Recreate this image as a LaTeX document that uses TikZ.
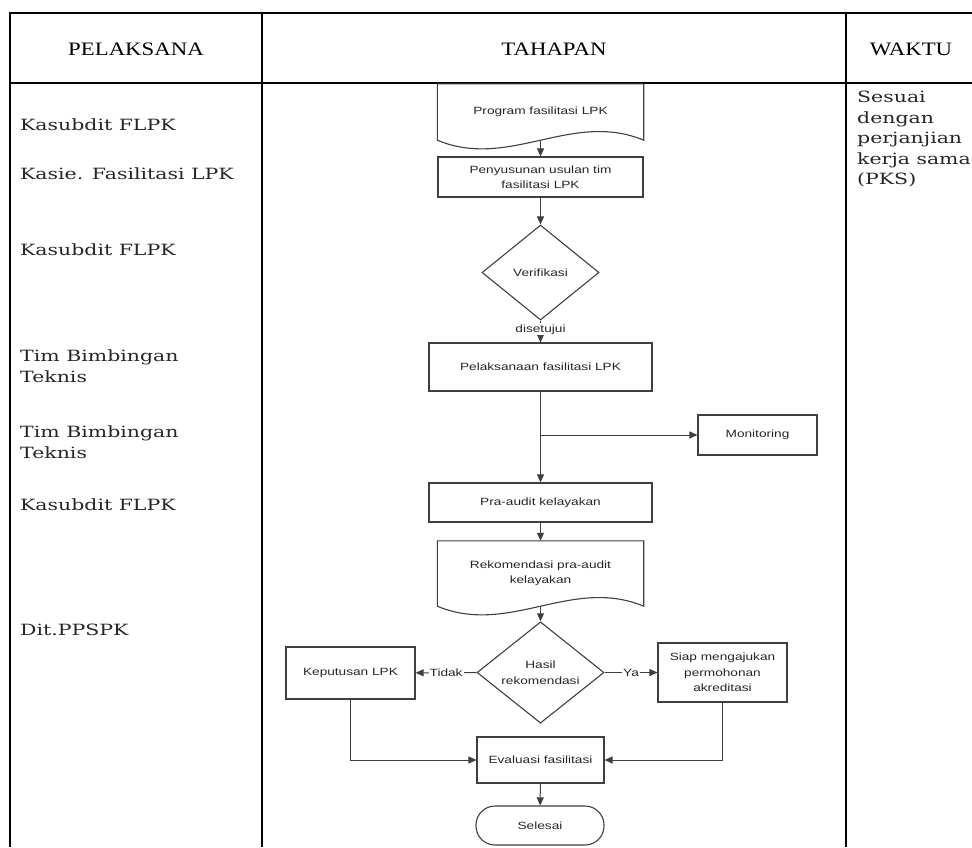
\documentclass[tikz,border=0pt]{standalone}
\usepackage{fontspec}
\usepackage{xcolor}
\usepackage{tikz}
\usetikzlibrary{arrows.meta,calc,positioning,shapes.geometric}
\newfontfamily\flowfont[FakeStretch=1.3]{Liberation Sans}
\newfontfamily\colfont[FakeStretch=1.32]{DejaVu Serif}
\newfontfamily\headfont[FakeStretch=1.2]{Liberation Serif}
\definecolor{inkgray}{HTML}{262626}
\definecolor{boxgray}{HTML}{3f3f3f}

\begin{document}
\begin{tikzpicture}[x=1pt,y=-1pt,
 flow/.style={font=\flowfont\fontsize{10.5}{15.5}\selectfont,text=inkgray,align=center},
 boxline/.style={draw=boxgray,line width=1.1pt},
 procbox/.style={flow,boxline,rectangle,inner sep=2pt},
 docbox/.style={flow,inner sep=2pt},
 decision/.style={flow,boxline,diamond,inner sep=0pt},
 term/.style={flow,boxline,rounded corners=19pt,inner sep=2pt},
 arrowline/.style={draw=boxgray,line width=1pt,-{Triangle[length=8pt,width=7pt]}},
 lbl/.style={flow,fill=white,inner sep=1pt},
 tbl/.style={draw=black,line width=1.8pt},
 head/.style={font=\headfont\fontsize{19}{22}\selectfont,text=black},
 col/.style={font=\colfont\fontsize{15.5}{20.5}\selectfont,text=inkgray,anchor=west,align=left,inner sep=0pt}]
\useasboundingbox (0,0) rectangle (972,847);

\draw[tbl] (10,847) -- (10,13) -- (972,13);
\draw[tbl] (10,83) -- (972,83);
\draw[tbl] (262,13) -- (262,847);
\draw[tbl] (846,13) -- (846,847);

\node[head] (hpel) at (136,49) {PELAKSANA};
\node[head] (htah) at (554,49) {TAHAPAN};
\node[head] (hwak) at (911,49) {WAKTU};

\node[col] (p1) at (20,124.5) {Kasubdit FLPK};
\node[col] (p2) at (20,174) {Kasie. Fasilitasi LPK};
\node[col] (p3) at (20,250) {Kasubdit FLPK};
\node[col] (p4) at (20,366) {Tim Bimbingan\\Teknis};
\node[col] (p5) at (20,442) {Tim Bimbingan\\Teknis};
\node[col] (p6) at (20,505) {Kasubdit FLPK};
\node[col] (p7) at (20,630) {Dit.PPSPK};
\node[col] (wkt) at (857,139) {Sesuai\\dengan\\perjanjian\\kerja sama\\(PKS)};

\node[docbox,minimum width=206pt,minimum height=56pt] (prog) at (540.5,112) {Program fasilitasi LPK};
\node[procbox,minimum width=205pt,minimum height=40pt] (pen) at (540.5,177) {Penyusunan usulan tim\\fasilitasi LPK};
\node[decision,minimum width=117pt,minimum height=95pt] (ver) at (540.5,272.5) {Verifikasi};
\node[procbox,minimum width=223pt,minimum height=48pt] (pel) at (540.5,367) {Pelaksanaan fasilitasi LPK};
\node[procbox,minimum width=119pt,minimum height=40pt] (mon) at (757.5,435) {Monitoring};
\node[procbox,minimum width=223pt,minimum height=39pt] (pra) at (540.5,502.5) {Pra-audit kelayakan};
\node[docbox,minimum width=206pt,minimum height=65pt] (rek) at (540.5,573.5) {Rekomendasi pra-audit\\kelayakan};
\node[decision,minimum width=127pt,minimum height=95pt] (has) at (540.5,672.5) {Hasil\\rekomendasi};
\node[procbox,minimum width=129pt,minimum height=52pt] (kep) at (350.5,673) {Keputusan LPK};
\node[procbox,minimum width=129pt,minimum height=59pt] (siap) at (722.5,672.5) {Siap mengajukan\\permohonan\\akreditasi};
\node[procbox,minimum width=127pt,minimum height=46pt] (eva) at (540.5,760) {Evaluasi fasilitasi};
\node[term,minimum width=128pt,minimum height=39pt] (sel) at (540,825.5) {Selesai};

\foreach \d in {prog,rek}
  \draw[boxline] (\d.south west) -- (\d.north west) -- (\d.north east) -- (\d.south east)
    .. controls ([shift={(-72,-30)}]\d.south east) and ([shift={(72,30)}]\d.south west) .. (\d.south west);

\coordinate (split) at (pel.south |- mon.west);
\draw[arrowline] (prog.south) -- (pen);
\draw[arrowline] (pen) -- (ver);
\draw[arrowline] (ver) -- node[lbl,pos=0.4] {disetujui} (pel);
\draw[arrowline] (pel) -- (pra);
\draw[arrowline] (split) -- (mon);
\draw[arrowline] (pra) -- (rek);
\draw[arrowline] (rek.south) -- (has);
\draw[arrowline] (has) -- node[lbl] {Tidak} (kep);
\draw[arrowline] (has) -- node[lbl] {Ya} (siap);
\draw[arrowline] (kep) |- (eva);
\draw[arrowline] (siap) |- (eva);
\draw[arrowline] (eva) -- (sel);
\end{tikzpicture}
\end{document}
